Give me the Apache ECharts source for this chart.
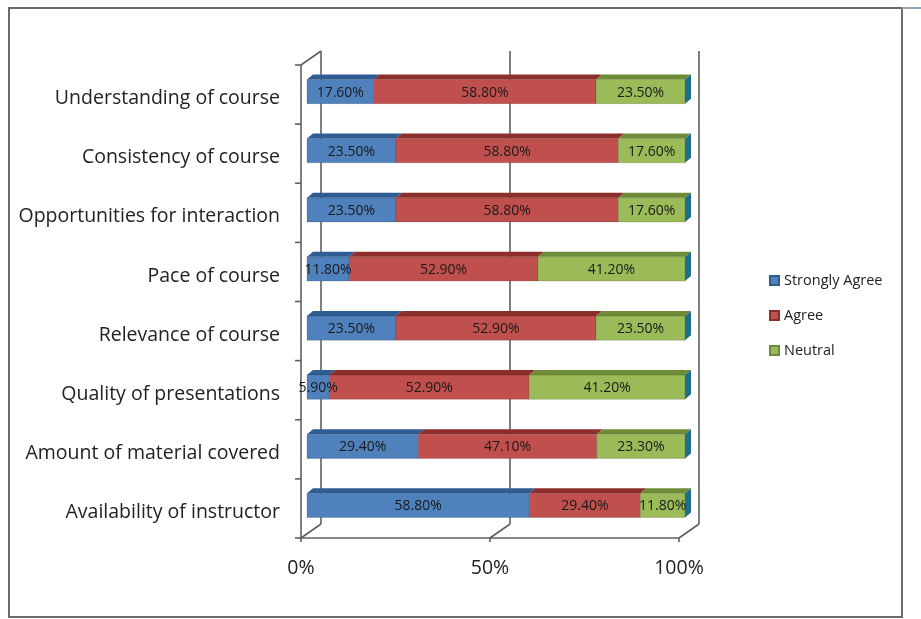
<!DOCTYPE html>
<html><head><meta charset="utf-8">
<script src="https://cdn.jsdelivr.net/npm/echarts@6/dist/echarts.min.js"></script>
<style>html,body{margin:0;padding:0;background:#fff}#c{width:921px;height:619px}</style>
</head><body><div id="c"></div>
<script>
const categories = ['Understanding of course','Consistency of course','Opportunities for interaction','Pace of course','Relevance of course','Quality of presentations','Amount of material covered','Availability of instructor'];
const stronglyAgree = [17.6,23.5,23.5,11.8,23.5,5.9,29.4,58.8];
const agree = [58.8,58.8,58.8,52.9,52.9,52.9,47.1,29.4];
const neutral = [23.5,17.6,17.6,41.2,23.5,41.2,23.3,11.8];
const xTicks = [0,50,100];
const seriesNames = ['Strongly Agree','Agree','Neutral'];

const raw = [stronglyAgree, agree, neutral];
const frontColors = ['#4F81BD','#C0504D','#9BBB59'];
const topColors = ['#2F5C93','#8C2F2C','#6E8C37'];
const sideColor = '#1F6F8B';
const FONT = "'Open Sans', sans-serif";

// 100% stacked: normalize each category by its total
const totals = categories.map((c,i)=>raw.reduce((s,a)=>s+a[i],0));
const segData = raw.map((arr,si)=>arr.map((v,i)=>{
  let start=0; for(let k=0;k<si;k++) start+=raw[k][i];
  return [start/totals[i]*100,(start+v)/totals[i]*100,i,v];
}));

const DX=6, DY=5;
function barRender(si){
  return function(params, api){
    const s=api.value(0), e=api.value(1), cat=api.value(2);
    const p0=api.coord([s,cat]), p1=api.coord([e,cat]);
    const band=api.size([0,1])[1];
    const h=band*0.41;
    const yT=p0[1]-h/2+1, yB=p0[1]+h/2+1;
    const x0=p0[0], x1=p1[0];
    const children=[
      {type:'polygon',shape:{points:[[x0,yT],[x1,yT],[x1+DX,yT-DY],[x0+DX,yT-DY]]},style:{fill:topColors[si]}},
      {type:'rect',shape:{x:x0,y:yT,width:x1-x0,height:h},style:{fill:frontColors[si],stroke:'rgba(0,0,0,0.25)',lineWidth:0.6}}
    ];
    if(si===2){
      children.push({type:'polygon',shape:{points:[[x1,yT],[x1+DX,yT-DY],[x1+DX,yB-DY],[x1,yB]]},style:{fill:sideColor}});
    }
    return {type:'group',children};
  };
}

const labelData=[];
segData.forEach(arr=>arr.forEach(d=>labelData.push([(d[0]+d[1])/2,d[2],d[3]])));

function labelRender(params, api){
  const p=api.coord([api.value(0),api.value(1)]);
  return {type:'text',style:{text:api.value(2).toFixed(2)+'%',x:p[0],y:p[1]+2,align:'center',verticalAlign:'middle',fill:'#1a1a1a',font:'14px '+FONT}};
}

function frameRender(params, api){
  const v=api.value(0);
  const p=api.coord([v,0]);
  const band=api.size([0,1])[1];
  const top=p[1]-band/2;
  const bottom=top+band*categories.length;
  const bx=p[0];
  const st={stroke:'#5f5f5f',lineWidth:1.6};
  const ch=[
    {type:'line',shape:{x1:bx+14,y1:top-10,x2:bx+14,y2:bottom-10},style:st},
    {type:'line',shape:{x1:bx-6,y1:bottom+4,x2:bx+14,y2:bottom-10},style:st},
    {type:'line',shape:{x1:bx-6,y1:bottom+4,x2:bx-6,y2:bottom+8},style:st}
  ];
  if(params.dataIndex===0){
    const pe=api.coord([xTicks[xTicks.length-1],0]);
    ch.push({type:'line',shape:{x1:bx-6,y1:bottom+4,x2:pe[0]-6,y2:bottom+4},style:st});
    ch.push({type:'line',shape:{x1:bx-6,y1:top+4,x2:bx-6,y2:bottom+4},style:st});
    ch.push({type:'line',shape:{x1:bx-6,y1:top+4,x2:bx+14,y2:top-10},style:st});
    for(let k=0;k<=categories.length;k++){
      const y=top+k*band+4;
      ch.push({type:'line',shape:{x1:bx-12,y1:y,x2:bx-6,y2:y},style:st});
    }
  }
  return {type:'group',children:ch};
}

const chart=echarts.init(document.getElementById('c'),null,{renderer:'canvas'});
const series=[
  {type:'custom',name:'frame',renderItem:frameRender,data:xTicks.map(v=>[v,0]),encode:{x:0,y:1},z:1,silent:true}
];
seriesNames.forEach((n,si)=>{
  series.push({type:'custom',name:n,renderItem:barRender(si),data:segData[si],encode:{x:[0,1],y:2},z:2,itemStyle:{color:frontColors[si],borderColor:topColors[si],borderWidth:1}});
});
series.push({type:'custom',name:'labels',renderItem:labelRender,data:labelData,encode:{x:0,y:1},z:5,silent:true});

chart.setOption({
  animation:false,
  backgroundColor:'#ffffff',
  grid:{left:307,width:378,top:61,bottom:85},
  xAxis:{type:'value',min:0,max:100,interval:50,
    axisLine:{show:false},axisTick:{show:false},splitLine:{show:false},
    axisLabel:{formatter:'{value}%',fontSize:19.5,color:'#222',fontFamily:FONT,margin:24,padding:[0,12,0,0]}},
  yAxis:{type:'category',data:categories,inverse:true,
    axisLine:{show:false},axisTick:{show:false},splitLine:{show:false},
    axisLabel:{fontSize:19.5,color:'#222',fontFamily:FONT,margin:27,verticalAlign:'top',lineHeight:16}},
  legend:{data:seriesNames,orient:'vertical',left:764,top:268,itemWidth:9,itemHeight:9,itemGap:20,icon:'rect',
    textStyle:{fontSize:14.5,color:'#222',fontFamily:FONT}},
  graphic:[
    {type:'rect',shape:{x:9,y:8,width:893,height:609},style:{fill:'none',stroke:'#6a6a6a',lineWidth:2},silent:true},
    {type:'line',shape:{x1:902,y1:8,x2:921,y2:8},style:{stroke:'#8fa6b8',lineWidth:2},silent:true}
  ],
  series
});
</script></body></html>
